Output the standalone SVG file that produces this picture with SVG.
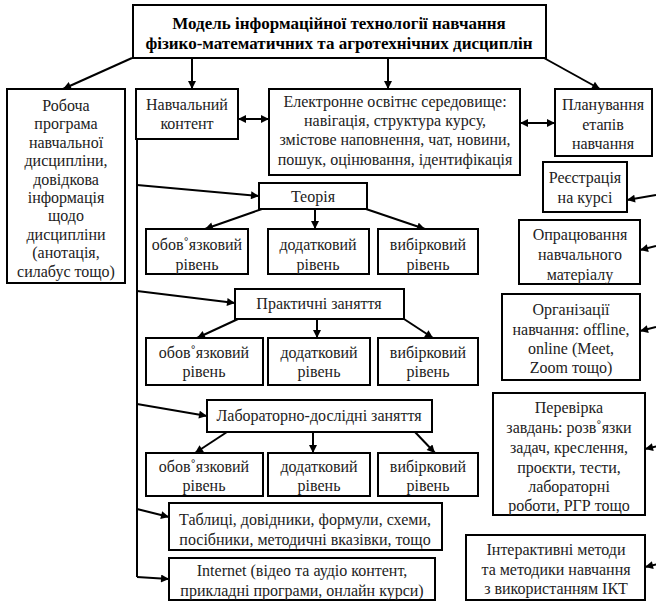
<svg xmlns="http://www.w3.org/2000/svg" width="656" height="603" viewBox="0 0 656 603">
<style>
.box{fill:#fff;stroke:#000;stroke-width:2}
.t{font-family:'Liberation Serif','DejaVu Serif','Noto Serif',serif;font-size:16px;fill:#222;text-anchor:middle}
.tb{font-family:'Liberation Serif','DejaVu Serif','Noto Serif',serif;font-size:17px;font-weight:bold;fill:#000;text-anchor:middle}
.c{fill:none;stroke:#000;stroke-width:2}
.a{marker-end:url(#ah)}
.d{marker-start:url(#ahs);marker-end:url(#ah)}
</style>
<defs>
<marker id="ah" viewBox="0 0 10 10" refX="10" refY="5" markerWidth="9" markerHeight="8" markerUnits="userSpaceOnUse" orient="auto"><path d="M0,0L10,5L0,10z" fill="#000"/></marker>
<marker id="ahs" viewBox="0 0 10 10" refX="0" refY="5" markerWidth="9" markerHeight="8" markerUnits="userSpaceOnUse" orient="auto"><path d="M10,0L0,5L10,10z" fill="#000"/></marker>
</defs>
<rect width="656" height="603" fill="#fff"/>
<g id="connectors">
<path class="c a" d="M132,58L63,89"/>
<path class="c a" d="M192,58L192,89"/>
<path class="c a" d="M388,58L388,89"/>
<path class="c a" d="M544,58L600,89"/>
<path class="c d" d="M238,119L269,119"/>
<path class="c d" d="M520,123L555,123"/>
<path class="c" d="M137,139L137,577"/>
<path class="c a" d="M137,185L259,196"/>
<path class="c a" d="M137,291L235,303"/>
<path class="c a" d="M137,404L207,416"/>
<path class="c a" d="M137,509L169,517"/>
<path class="c a" d="M137,577L169,579"/>
<path class="c a" d="M262,209L205,229"/>
<path class="c a" d="M315,209L315,229"/>
<path class="c a" d="M366,209L425,229"/>
<path class="c a" d="M238,319L197,338"/>
<path class="c a" d="M317,319L317,338"/>
<path class="c a" d="M404,319L433,338"/>
<path class="c a" d="M227,432L195,453"/>
<path class="c a" d="M313,432L313,453"/>
<path class="c a" d="M415,432L435,453"/>
<path class="c a" d="M656,195L627,200"/>
<path class="c a" d="M656,246L640,250"/>
<path class="c a" d="M656,327L640,331"/>
<path class="c a" d="M658,446L645,449"/>
<path class="c a" d="M658,564L645,567"/>
</g>
<g id="title"><rect class="box" x="133" y="5" width="413" height="53"/>
<text class="tb" x="339" y="29">Модель інформаційної технології навчання</text>
<text class="tb" x="339" y="49">фізико-математичних та агротехнічних дисциплін</text></g>
<g id="robocha"><rect class="box" x="7" y="89" width="118" height="194"/>
<text class="t" x="66" y="111">Робоча</text>
<text class="t" x="66" y="129">програма</text>
<text class="t" x="66" y="148">навчальної</text>
<text class="t" x="66" y="166">дисципліни,</text>
<text class="t" x="66" y="185">довідкова</text>
<text class="t" x="66" y="203">інформація</text>
<text class="t" x="66" y="221">щодо</text>
<text class="t" x="66" y="240">дисципліни</text>
<text class="t" x="66" y="258">(анотація,</text>
<text class="t" x="66" y="277">силабус тощо)</text></g>
<g id="kontent"><rect class="box" x="136" y="89" width="102" height="50"/>
<text class="t" x="187" y="110">Навчальний</text>
<text class="t" x="187" y="129">контент</text></g>
<g id="seredovyshche"><rect class="box" x="269" y="89" width="251" height="86"/>
<text class="t" x="395" y="107">Електронне освітнє середовище:</text>
<text class="t" x="395" y="126">навігація, структура курсу,</text>
<text class="t" x="395" y="145">змістове наповнення, чат, новини,</text>
<text class="t" x="395" y="165">пошук, оцінювання, ідентифікація</text></g>
<g id="planuvannia"><rect class="box" x="555" y="89" width="97" height="67"/>
<text class="t" x="603" y="110">Планування</text>
<text class="t" x="603" y="130">етапів</text>
<text class="t" x="603" y="149">навчання</text></g>
<g id="reiestratsiia"><rect class="box" x="543" y="162" width="84" height="50"/>
<text class="t" x="585" y="183">Реєстрація</text>
<text class="t" x="585" y="203">на курсі</text></g>
<g id="opratsiuvannia"><rect class="box" x="519" y="220" width="121" height="64"/>
<text class="t" x="580" y="240">Опрацювання</text>
<text class="t" x="580" y="260">навчального</text>
<text class="t" x="580" y="280">матеріалу</text></g>
<g id="orhanizatsii"><rect class="box" x="502" y="294" width="138" height="86"/>
<text class="t" x="571" y="315">Організації</text>
<text class="t" x="571" y="335">навчання: offline,</text>
<text class="t" x="571" y="354">online (Meet,</text>
<text class="t" x="571" y="373">Zoom тощо)</text></g>
<g id="perevirka"><rect class="box" x="493" y="393" width="152" height="122"/>
<text class="t" x="569" y="413">Перевірка</text>
<text class="t" x="569" y="433">завдань: розв˚язки</text>
<text class="t" x="569" y="453">задач,  креслення,</text>
<text class="t" x="569" y="473">проєкти, тести,</text>
<text class="t" x="569" y="492">лабораторні</text>
<text class="t" x="569" y="511">роботи, РГР тощо</text></g>
<g id="interaktyvni"><rect class="box" x="466" y="535" width="179" height="65"/>
<text class="t" x="556" y="555">Інтерактивні методи</text>
<text class="t" x="556" y="575">та методики навчання</text>
<text class="t" x="556" y="594">з використанням ІКТ</text></g>
<g id="teoriia"><rect class="box" x="259" y="183" width="108" height="26"/>
<text class="t" x="313" y="202">Теорія</text></g>
<g id="t-oboviazkovyi"><rect class="box" x="146" y="229" width="102" height="45"/>
<text class="t" x="197" y="250">обов˚язковий</text><text class="t" x="197" y="270">рівень</text></g>
<g id="t-dodatkovyi"><rect class="box" x="268" y="229" width="101" height="45"/>
<text class="t" x="318" y="250">додатковий</text><text class="t" x="318" y="270">рівень</text></g>
<g id="t-vybirkovyi"><rect class="box" x="378" y="229" width="100" height="45"/>
<text class="t" x="428" y="250">вибірковий</text><text class="t" x="428" y="270">рівень</text></g>
<g id="praktychni"><rect class="box" x="235" y="289" width="169" height="30"/>
<text class="t" x="319" y="309">Практичні заняття</text></g>
<g id="p-oboviazkovyi"><rect class="box" x="146" y="338" width="117" height="47"/>
<text class="t" x="204" y="358">обов˚язковий</text><text class="t" x="204" y="377">рівень</text></g>
<g id="p-dodatkovyi"><rect class="box" x="268" y="338" width="102" height="47"/>
<text class="t" x="319" y="358">додатковий</text><text class="t" x="319" y="377">рівень</text></g>
<g id="p-vybirkovyi"><rect class="box" x="378" y="338" width="100" height="47"/>
<text class="t" x="428" y="358">вибірковий</text><text class="t" x="428" y="377">рівень</text></g>
<g id="laboratorni"><rect class="box" x="207" y="400" width="225" height="32"/>
<text class="t" x="319" y="421">Лабораторно-дослідні заняття</text></g>
<g id="l-oboviazkovyi"><rect class="box" x="146" y="453" width="117" height="43"/>
<text class="t" x="204" y="472">обов˚язковий</text><text class="t" x="204" y="491">рівень</text></g>
<g id="l-dodatkovyi"><rect class="box" x="268" y="453" width="102" height="43"/>
<text class="t" x="319" y="472">додатковий</text><text class="t" x="319" y="491">рівень</text></g>
<g id="l-vybirkovyi"><rect class="box" x="378" y="453" width="100" height="43"/>
<text class="t" x="428" y="472">вибірковий</text><text class="t" x="428" y="491">рівень</text></g>
<g id="tablytsi"><rect class="box" x="169" y="503" width="273" height="47"/>
<text class="t" x="305" y="525">Таблиці, довідники, формули, схеми,</text>
<text class="t" x="305" y="545">посібники, методичні вказівки, тощо</text></g>
<g id="internet"><rect class="box" x="169" y="558" width="266" height="42"/>
<text class="t" x="302" y="576">Internet (відео та аудіо контент,</text>
<text class="t" x="302" y="596">прикладні програми, онлайн курси)</text></g>
</svg>
